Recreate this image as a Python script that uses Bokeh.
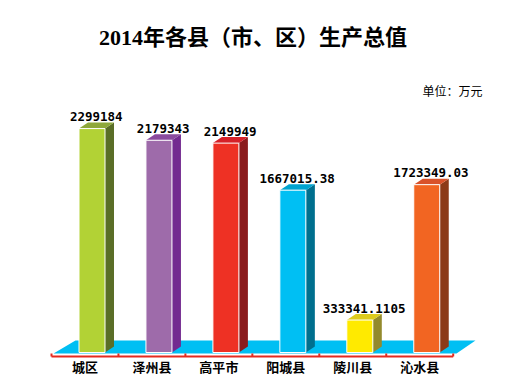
from bokeh.plotting import figure
from bokeh.models import Range1d, Label, ColumnDataSource
from bokeh.embed import file_html
from bokeh.resources import INLINE
from bokeh.core.properties import value

# ---- data ----
categories = ["城区", "泽州县", "高平市", "阳城县", "陵川县", "沁水县"]
values = [2299184, 2179343, 2149949, 1667015.38, 333341.1105, 1723349.03]
value_labels = [str(v) for v in values]
front_colors = ["#B2D235", "#9E6BAA", "#EE3124", "#00BFF3", "#FFEA00", "#F26522"]
side_colors = ["#5A6E27", "#732B90", "#8B1B1D", "#006F8E", "#938A2C", "#8C3A18"]
top_colors = ["#8EA83A", "#8A4A9E", "#D62128", "#00A4D0", "#DDCB1D", "#D9522A"]
title_text = "2014年各县（市、区）生产总值"
unit_text = "单位：万元"

# ---- layout (pixels) ----
W, H = 527, 378
CAT_PX = 66.95           # width of one category slot
X0_PX = 51.0             # canvas x of the first category boundary
BASE_PX = 352.0          # canvas y of value 0
Y_SCALE = 224.0 / 2.3e6  # pixels per unit of value


def dx(px):
    return px / CAT_PX


def dy(px):
    return px / Y_SCALE


def cx(canvas_x):
    return (canvas_x - X0_PX) / CAT_PX


def cy(canvas_y):
    return (BASE_PX - canvas_y) / Y_SCALE


n = len(categories)
p = figure(width=W, height=H, output_backend="svg", toolbar_location=None,
           x_range=Range1d(cx(0), cx(W)), y_range=Range1d(cy(H), cy(0)),
           x_axis_type=None, y_axis_type=None, min_border=0,
           outline_line_color=None, background_fill_color="white",
           border_fill_color="white")

# floor
p.patch(x=[dx(2), n + dx(3.3), n + dx(22.3), dx(24)],
        y=[-dy(1), -dy(1), dy(12), dy(12)],
        fill_color="#00BFF3", line_color=None)

# bars
DXU, DYU = dx(9), dy(6)
lefts = [i + dx(27.5) for i in range(n)]
rights = [i + dx(53.5) for i in range(n)]
side_xs = [[r, r + DXU, r + DXU, r] for r in rights]
side_ys = [[0, DYU, v + DYU, v] for v in values]
top_xs = [[l, l + DXU, r + DXU, r] for l, r in zip(lefts, rights)]
top_ys = [[v, v + DYU, v + DYU, v] for v in values]

p.patches(xs=side_xs, ys=side_ys, fill_color=side_colors, line_color=None)
p.patches(xs=top_xs, ys=top_ys, fill_color=top_colors, line_color=None)
src = ColumnDataSource(dict(left=lefts, right=rights, top=values,
                            bottom=[0] * n, color=front_colors))
p.quad(left="left", right="right", top="top", bottom="bottom", source=src,
       fill_color="color", line_color="white", line_width=1)

# red axis line with boundary ticks
p.segment(x0=[0], y0=[-dy(4)], x1=[n], y1=[-dy(4)], line_color="#E52B20", line_width=2)
p.segment(x0=list(range(n + 1)), y0=[-dy(4)] * (n + 1),
          x1=list(range(n + 1)), y1=[-dy(1)] * (n + 1),
          line_color="#E52B20", line_width=2)

# value labels
p.text(x=[i + dx(44.75) for i in range(n)], y=[v + dy(12) for v in values],
       text=value_labels, text_align="center", text_baseline="alphabetic",
       text_font=value("DejaVu Sans Mono"), text_font_style="bold",
       text_font_size="12.5px", text_color="black")

# category labels
p.text(x=[i + 0.5 for i in range(n)], y=[cy(366)] * n, text=categories,
       text_align="center", text_baseline="middle",
       text_font=value("Noto Sans CJK SC"), text_font_style="bold",
       text_font_size="13px", text_color="black")

p.add_layout(Label(x=cx(252.5), y=cy(36.5), text=title_text,
                   text_align="center", text_baseline="middle",
                   text_font="Liberation Serif, Noto Sans CJK SC",
                   text_font_style="bold", text_font_size="22px",
                   text_color="black"))
p.add_layout(Label(x=cx(482), y=cy(90), text=unit_text,
                   text_align="right", text_baseline="middle",
                   text_font="Noto Sans CJK SC", text_font_size="12px",
                   text_color="black"))

open("out.html", "w").write(file_html(p, INLINE))
